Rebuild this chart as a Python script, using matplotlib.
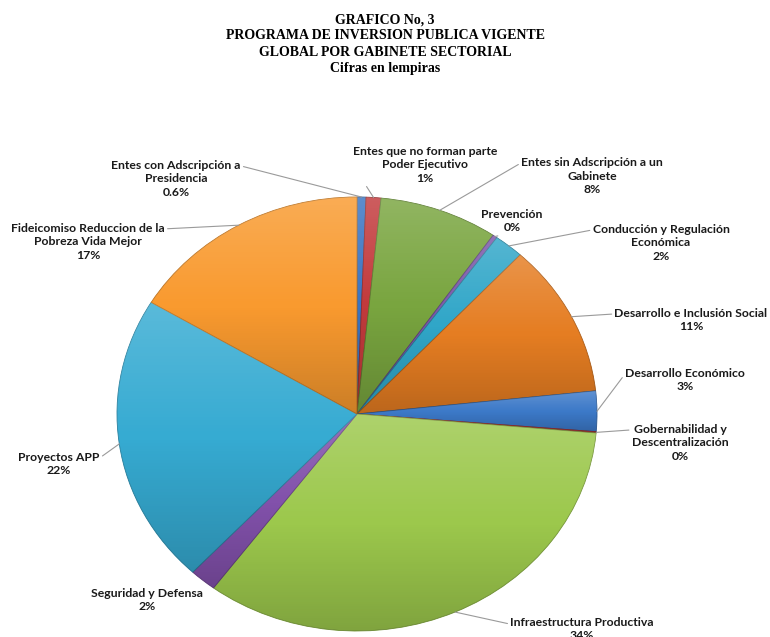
import matplotlib
matplotlib.use("Agg")
import matplotlib.pyplot as plt
import numpy as np

# shares of the total (percent), clockwise from 12 o'clock
categories = [
    "Entes con Adscripción a\nPresidencia",
    "Entes que no forman parte\nPoder Ejecutivo",
    "Entes sin Adscripción a un\nGabinete",
    "Prevención",
    "Conducción y Regulación\nEconómica",
    "Desarrollo e Inclusión Social",
    "Desarrollo Económico",
    "Gobernabilidad y\nDescentralización",
    "Infraestructura Productiva",
    "Seguridad y Defensa",
    "Proyectos APP",
    "Fideicomiso Reduccion de la\nPobreza Vida Mejor",
]
shares = [0.6, 1.0, 8.0, 0.3, 2.0, 11.4, 3.0, 0.1, 33.8, 1.8, 21.6, 16.4]
pct_labels = ["0.6%", "1%", "8%", "0%", "2%", "11%", "3%", "0%", "34%", "2%", "22%", "17%"]
colors = ["#3a74c2", "#c23a3c", "#79a53f", "#7a56a8", "#30a6c8", "#e57d22",
          "#3c79c8", "#c23a3c", "#9cc84c", "#8251ab", "#36abd2", "#f99a2f"]

# label centres in pixels, and where the leader leaves the text
label_pos = [(176, 179), (425, 165), (592, 176), (512, 221), (661, 243), (691, 320),
             (685, 380), (680, 443), (582, 629), (147, 600), (59, 464), (88, 242)]
label_rel = [(1, 0.85), (0, 0.5), (0, 0.85), (0.5, 0), (0, 0.85), (0, 0.75),
             (0, 0.75), (0, 0.85), (0, 0.7), None, (1, 0.75), (1, 0.85)]

W, H = 770, 637
CX, CY, RX, RY = 357, 414, 240, 217


def px(x, y):
    return (x - CX) / RX, (CY - y) / RY


fig = plt.figure(figsize=(W / 100, H / 100), dpi=100)
ax = fig.add_axes([0, 0, 1, 1])

wedges, _ = ax.pie(shares, colors=colors, startangle=90, counterclock=False,
                   wedgeprops=dict(linewidth=0.6))
ax.set_aspect("auto")
ax.set_xlim(-CX / RX, (W - CX) / RX)
ax.set_ylim(-(H - CY) / RY, CY / RY)
ax.axis("off")

# soft top-to-bottom shading on every slice, like the office gradient fill
grad = np.zeros((64, 1, 4))
t = np.linspace(0, 1, 64)
grad[:, 0, :3] = np.where(t[:, None] < 0.5, 1.0, 0.0)
grad[:, 0, 3] = np.abs(t - 0.5) * 0.36
for w in wedges:
    w.set_edgecolor(tuple(c * 0.75 for c in w.get_facecolor()[:3]))
    bb = w.get_path().get_extents(w.get_patch_transform())
    im = ax.imshow(grad, extent=(bb.x0, bb.x1, bb.y0, bb.y1), origin="upper",
                   aspect="auto", interpolation="bilinear", zorder=w.get_zorder() + 0.1)
    im.set_clip_path(w)
ax.set_xlim(-CX / RX, (W - CX) / RX)
ax.set_ylim(-(H - CY) / RY, CY / RY)

font = ["Lato", "DejaVu Sans"]
cum = np.cumsum(shares) - np.array(shares) / 2
for i, (name, pct) in enumerate(zip(categories, pct_labels)):
    theta = np.deg2rad(cum[i] / sum(shares) * 360)
    tip = (np.sin(theta), np.cos(theta))
    tx, ty = px(*label_pos[i])
    style = dict(ha="center", va="center", fontsize=8.8, fontweight="bold", family=font,
                 linespacing=1.25, color="#1a1a1a")
    if label_rel[i] is None:
        ax.text(tx, ty, name + "\n" + pct, **style)
    else:
        ax.annotate(name + "\n" + pct, xy=tip, xytext=(tx, ty), zorder=5,
                    arrowprops=dict(arrowstyle="-", color="#9a9a9a", lw=0.8,
                                    relpos=label_rel[i], shrinkA=0, shrinkB=0),
                    **style)

fig.text(0.5, 1 - 44 / H, "GRAFICO No, 3\nPROGRAMA DE INVERSION PUBLICA VIGENTE\n"
         "GLOBAL POR GABINETE SECTORIAL\nCifras en lempiras", ha="center", va="center",
         fontsize=10, fontweight="bold", family=["Liberation Serif", "DejaVu Serif"],
         linespacing=1.32)

fig.savefig("out.png", dpi=100, facecolor="white")
